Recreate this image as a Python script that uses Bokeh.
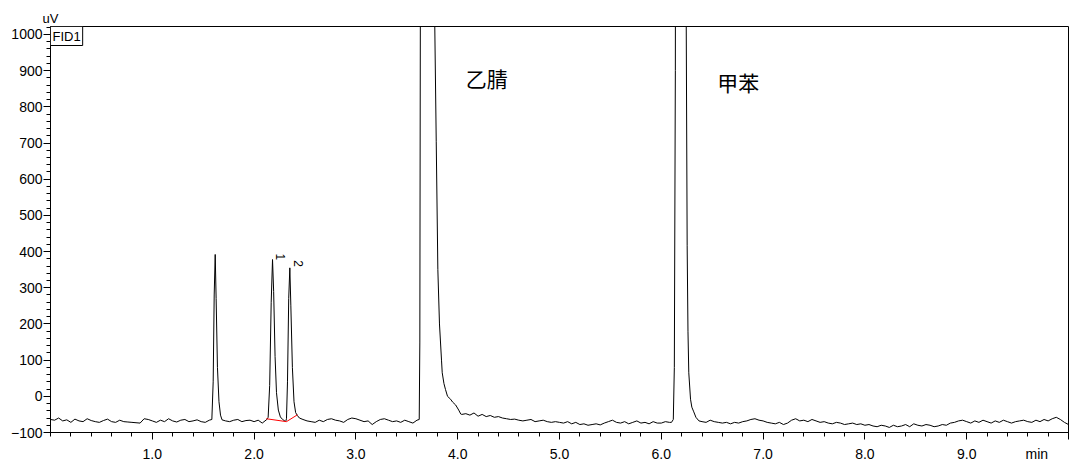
import math
from bokeh.plotting import figure
from bokeh.models import Range1d, FixedTicker, Label
from bokeh.core.properties import value
from bokeh.embed import file_html
from bokeh.resources import INLINE

# ---------------- data ----------------
# baseline/noise sampled every 0.04 min from 0.00 to 10.00 (uV); None = covered by a peak list
baseline_step = 0.04
baseline_uv = [
    -64, -66, -60, -68, -65, -72, -63, -68, -70, -62, -67, -70, -72, -67, -63, -70, -72, -66, -70, -71, -72, -73, -74, -62, -64,
    -68, -72, -66, -70, -62, -68, -71, -66, -64, -70, -68, -65, -70, -72, -66, None, None, None, -68, -70, -66, -64, -70, -67, -66,
    -70, -66, -74, None, None, None, None, None, None, None, None, None, -64, -68, -70, -72, -66, -70, -64, -62, -66, -68, -72, -64, -60,
    -62, -66, -70, -68, -78, -70, -64, -62, -66, -70, -68, -72, -66, -70, -74, None, None, None, None, None, None, None, None, None, None,
    None, -50, -48, -52, -46, -55, -50, -56, -53, -58, -56, -60, -62, -64, -63, -66, -68, -66, -64, -70, -68, -66, -70, -72, -70,
    -72, -74, -70, -76, -72, -78, -76, -80, -78, -76, -79, -74, -70, -66, -72, -74, -70, -76, -72, -68, -74, -72, -76, -70, -74,
    -74, -70, -72, None, None, None, None, None, None, None, -70, -72, -66, -70, -72, -74, -72, -76, -72, -74, -70, -68, -64, -62, -66,
    -68, -72, -74, -76, -72, -78, -74, -66, -62, -68, -66, -70, -64, -68, -72, -70, -74, -76, -72, -74, -78, -76, -74, -78, -76,
    -80, -78, -82, -84, -80, -82, -86, -80, -84, -82, -78, -84, -76, -80, -82, -78, -80, -84, -82, -78, -80, -74, -72, -68, -66,
    -70, -74, -68, -72, -66, -70, -74, -68, -72, -66, -70, -74, -70, -68, -66, -70, -72, -66, -70, -64, -68, -62, -58, -64, -72,
    -78,
]

# unlabelled peak at 1.62 min
peakA_t = [1.585, 1.598, 1.608, 1.618, 1.627, 1.64, 1.655, 1.67, 1.685]
peakA_uv = [-64, 40, 280, 392, 270, 80, -15, -52, -65]

# peaks 1 and 2
peak12_t = [2.125, 2.138, 2.153, 2.168, 2.181, 2.192, 2.206, 2.22, 2.238, 2.258, 2.28, 2.31,
            2.318, 2.328, 2.34, 2.351, 2.361, 2.376, 2.392, 2.408, 2.425, 2.445]
peak12_uv = [-64, -58, 30, 260, 378, 290, 110, 10, -38, -57, -64, -70,
             -62, 40, 270, 355, 250, 80, -15, -45, -53, -60]

# acetonitrile (off scale)
acn_t = [3.60, 3.622, 3.628, 3.634, 3.645, 3.70, 3.765, 3.775, 3.789, 3.805, 3.821, 3.841, 3.848,
         3.865, 3.88, 3.90, 3.93, 3.95, 3.98, 4.01, 4.03]
acn_uv = [-66, -64, 150, 1200, 5000, 8000, 2000, 1022, 705, 350, 200, 100, 65,
          35, 19, 0, -8, -16, -24, -38, -49]

# toluene (off scale)
tol_t = [6.10, 6.118, 6.128, 6.138, 6.15, 6.20, 6.235, 6.245, 6.254, 6.262, 6.27, 6.287, 6.30, 6.319, 6.34, 6.37]
tol_uv = [-72, -64, 80, 900, 4000, 6000, 1600, 1022, 416, 180, 65, -8, -30, -43, -58, -68]

# integration baseline (red)
integ_t = [2.12, 2.318, 2.426]
integ_uv = [-62, -70, -51]

peak_numbers = ["1", "2"]
peak_number_t = [2.26, 2.436]
peak_number_uv = [395, 376]

compound_names = ["乙腈", "甲苯"]
compound_t = [4.08, 6.55]
compound_uv = [881, 869]

x_major = [1, 2, 3, 4, 5, 6, 7, 8, 9, 10]
x_labels = ["1.0", "2.0", "3.0", "4.0", "5.0", "6.0", "7.0", "8.0", "9.0", "min" + "\u00a0" * 6]
y_major = [-100, 0, 100, 200, 300, 400, 500, 600, 700, 800, 900, 1000]

# ---------------- assemble trace ----------------
pts = []
for i, v in enumerate(baseline_uv):
    if v is not None:
        pts.append((round(i * baseline_step, 2), v))
for ts, vs in ((peakA_t, peakA_uv), (peak12_t, peak12_uv), (acn_t, acn_uv), (tol_t, tol_uv)):
    pts.extend(zip(ts, vs))
pts.sort()
trace_t = [a for a, b in pts]
trace_uv = [b for a, b in pts]

FONT = "Liberation Sans"

p = figure(width=1071, height=464, x_range=Range1d(0, 10), y_range=Range1d(-100, 1022),
           output_backend="svg", toolbar_location=None,
           min_border_left=50, min_border_right=3, min_border_top=26, min_border_bottom=23)
p.grid.visible = False
p.outline_line_color = "black"
p.outline_line_width = 1

p.title.text = "uV"
p.title.align = "left"
p.title.offset = -8
p.title.standoff = 1
p.title.text_font = FONT
p.title.text_font_size = "13px"
p.title.text_font_style = "normal"
p.title.text_color = "black"

p.line(trace_t, trace_uv, line_color="black", line_width=1)
p.line(integ_t, integ_uv, line_color="red", line_width=1)

for ax in (p.xaxis[0], p.yaxis[0]):
    ax.axis_line_color = "black"
    ax.major_tick_line_color = "black"
    ax.minor_tick_line_color = "black"
    ax.major_tick_in = 0
    ax.minor_tick_in = 0
    ax.major_tick_out = 7
    ax.minor_tick_out = 4
    ax.major_label_text_font = FONT
    ax.major_label_text_font_size = "14px"
    ax.major_label_text_color = "black"

p.xaxis.ticker = FixedTicker(ticks=x_major, minor_ticks=[round(0.2 * i, 1) for i in range(51)])
p.xaxis.major_label_overrides = dict(zip(x_major, x_labels))
p.xaxis.major_label_standoff = 6
p.yaxis.ticker = FixedTicker(ticks=y_major, minor_ticks=list(range(-100, 1021, 20)))
p.yaxis.major_label_standoff = 1

p.add_layout(Label(x=0, y=1022, text="FID1", text_align="left", text_baseline="top",
                   text_font=FONT, text_font_size="13px", text_color="black",
                   border_line_color="black", border_line_width=1,
                   background_fill_color="white", padding=2))

for txt, tx, ty in zip(peak_numbers, peak_number_t, peak_number_uv):
    p.add_layout(Label(x=tx, y=ty, text=txt, angle=-math.pi / 2, text_align="left",
                       text_baseline="middle", text_font=FONT, text_font_size="12px",
                       text_color="black"))

p.text(x=compound_t, y=compound_uv, text=compound_names, text_align="left", text_baseline="middle",
       text_font=value("Noto Sans CJK SC"), text_font_size="21px", text_color="black")

open("out.html", "w").write(file_html(p, INLINE))
